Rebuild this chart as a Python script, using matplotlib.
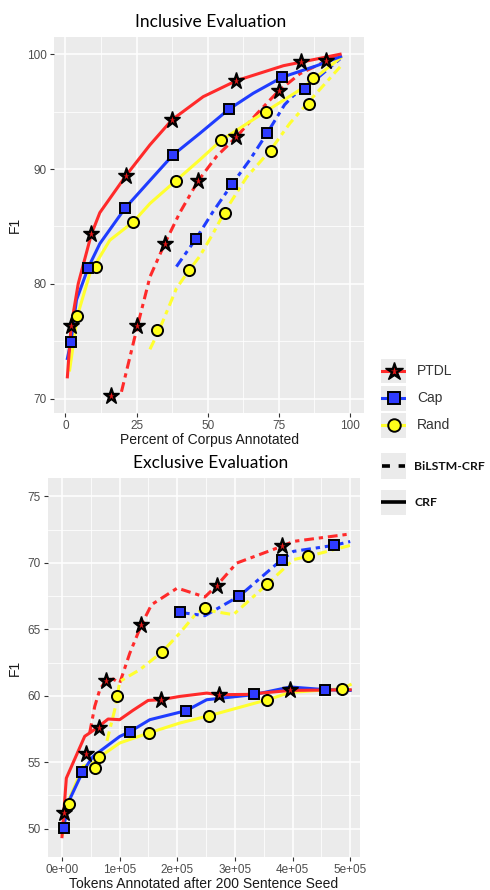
import matplotlib
matplotlib.use('Agg')
import matplotlib.pyplot as plt
from matplotlib.lines import Line2D

# ---- Inclusive evaluation (percent of corpus annotated vs F1) ----
inc_ptdl_crf_x = [0.7, 2.0, 4.5, 9.1, 12.1, 21.5, 29.7, 37.5, 48.4, 60.1, 76.6, 96.5]
inc_ptdl_crf_y = [71.9, 76.3, 80.0, 84.3, 86.2, 89.5, 92.1, 94.3, 96.3, 97.7, 99.0, 100.0]
inc_ptdl_crf_mx = [1.8, 9.1, 21.2, 37.5, 60.1, 82.9, 91.6]
inc_ptdl_crf_my = [76.3, 84.3, 89.4, 94.3, 97.7, 99.3, 99.4]

inc_cap_crf_x = [0.7, 1.9, 3.9, 8.0, 12.1, 21.0, 29.7, 37.7, 47.2, 57.4, 66.0, 76.2, 88.3, 96.7]
inc_cap_crf_y = [73.5, 74.9, 78.6, 81.4, 83.5, 86.6, 89.0, 91.2, 93.1, 95.2, 96.6, 98.0, 99.0, 99.8]
inc_cap_crf_mx = [1.9, 8.0, 21.0, 37.7, 57.4, 76.2]
inc_cap_crf_my = [74.9, 81.4, 86.6, 91.2, 95.2, 98.0]

inc_rand_crf_x = [1.5, 4.2, 8.6, 15.6, 23.9, 29.7, 38.9, 47.2, 54.7, 70.3, 82.4, 96.7]
inc_rand_crf_y = [72.5, 77.2, 80.9, 83.8, 85.4, 87.0, 89.0, 90.8, 92.5, 95.0, 96.9, 99.7]
inc_rand_crf_mx = [4.2, 10.9, 23.9, 38.9, 54.7, 70.3, 86.9]
inc_rand_crf_my = [77.2, 81.5, 85.4, 89.0, 92.5, 95.0, 97.9]

inc_ptdl_lstm_x = [19.7, 25.3, 29.7, 34.9, 40.2, 46.7, 53.1, 60.1, 67.2, 74.9, 82.4, 96.5]
inc_ptdl_lstm_y = [70.6, 76.3, 80.6, 83.5, 86.2, 89.0, 91.1, 92.8, 94.8, 96.8, 98.3, 100.0]
inc_ptdl_lstm_mx = [15.9, 25.3, 34.9, 46.7, 60.1, 74.9]
inc_ptdl_lstm_my = [70.2, 76.3, 83.5, 89.0, 92.8, 96.8]

inc_cap_lstm_x = [39.0, 45.8, 51.9, 58.6, 64.8, 70.8, 77.0, 80.1, 84.2, 96.5]
inc_cap_lstm_y = [81.5, 83.9, 86.3, 88.7, 90.8, 93.1, 95.6, 96.4, 97.0, 99.6]
inc_cap_lstm_mx = [45.8, 58.6, 70.8, 84.2]
inc_cap_lstm_my = [83.9, 88.7, 93.1, 97.0]

inc_rand_lstm_x = [29.7, 33.0, 39.0, 43.5, 47.2, 51.9, 56.0, 63.7, 71.9, 78.9, 87.1, 96.5]
inc_rand_lstm_y = [74.3, 76.0, 79.6, 81.2, 82.4, 84.4, 86.3, 89.3, 91.6, 94.0, 96.3, 98.9]
inc_rand_lstm_mx = [32.2, 43.5, 55.9, 72.1, 85.5]
inc_rand_lstm_my = [76.0, 81.2, 86.2, 91.6, 95.7]

# ---- Exclusive evaluation (tokens annotated vs F1) ----
exc_ptdl_crf_x = [0, 7500, 39400, 48000, 62600, 80000, 100000, 123000, 149500, 170900,
                  204500, 251000, 273000, 320000, 396000, 500000]
exc_ptdl_crf_y = [49.4, 53.8, 56.95, 57.2, 57.65, 58.25, 58.2, 58.9, 59.65, 59.7,
                  59.95, 60.2, 60.08, 60.1, 60.4, 60.45]
exc_ptdl_crf_mx = [2900, 42300, 63700, 171500, 272000, 396000]
exc_ptdl_crf_my = [51.2, 55.64, 57.6, 59.68, 60.08, 60.4]

exc_cap_crf_x = [1000, 13300, 35300, 53900, 100200, 118000, 152400, 215500, 251000,
                 332000, 396000, 456500, 500000]
exc_cap_crf_y = [49.8, 52.2, 54.24, 55.44, 56.94, 57.3, 58.2, 58.88, 59.7,
                 60.08, 60.66, 60.46, 60.4]
exc_cap_crf_mx = [3500, 35300, 118000, 215500, 333000, 456500]
exc_cap_crf_my = [50.08, 54.24, 57.3, 58.88, 60.13, 60.46]

exc_rand_crf_x = [600, 7500, 36500, 56800, 65500, 100200, 150600, 204500, 255500,
                  356300, 396000, 485500, 500000]
exc_rand_crf_y = [49.55, 51.7, 54.7, 55.0, 55.4, 56.45, 57.2, 57.95, 58.5,
                  59.7, 60.25, 60.53, 60.83]
exc_rand_crf_mx = [12000, 56800, 64300, 150600, 255500, 356300, 485500]
exc_rand_crf_my = [51.86, 54.6, 55.4, 57.2, 58.5, 59.7, 60.5]

exc_ptdl_lstm_x = [48000, 56800, 65500, 75900, 85700, 100200, 117600, 137900, 155300,
                   200000, 247900, 268300, 303000, 381200, 401500, 500000]
exc_ptdl_lstm_y = [57.2, 59.2, 60.45, 61.13, 61.33, 60.96, 63.2, 65.35, 66.85,
                   68.1, 67.43, 68.28, 69.98, 71.24, 71.61, 72.17]
exc_ptdl_lstm_mx = [75900, 137900, 268300, 381200]
exc_ptdl_lstm_my = [61.13, 65.35, 68.28, 71.24]

exc_cap_lstm_x = [204500, 247900, 307700, 381200, 401500, 471100, 500000]
exc_cap_lstm_y = [66.27, 66.02, 67.5, 70.24, 70.86, 71.31, 71.6]
exc_cap_lstm_mx = [204500, 307700, 381200, 471100]
exc_cap_lstm_my = [66.27, 67.5, 70.24, 71.31]

exc_rand_lstm_x = [78000, 91500, 96200, 100200, 135000, 173800, 204500, 233500, 247900,
                   262500, 297200, 356300, 401500, 427500, 500000]
exc_rand_lstm_y = [56.6, 58.95, 60.0, 61.08, 61.96, 63.3, 64.72, 66.22, 66.6,
                   66.35, 66.1, 68.4, 70.24, 70.49, 71.31]
exc_rand_lstm_mx = [96200, 173800, 247900, 356300, 427500]
exc_rand_lstm_my = [60.0, 63.3, 66.6, 68.4, 70.49]

inc_xticks = [0, 25, 50, 75, 100]
inc_yticks = [70, 80, 90, 100]
exc_xticks = [0, 100000, 200000, 300000, 400000, 500000]
exc_xticklabels = ['0e+00', '1e+05', '2e+05', '3e+05', '4e+05', '5e+05']
exc_yticks = [50, 55, 60, 65, 70, 75]

methods = ['PTDL', 'Cap', 'Rand']
line_colors = {'PTDL': '#FF2A2A', 'Cap': '#1F3CFF', 'Rand': '#FFFF2E'}
fill_colors = {'PTDL': '#E81818', 'Cap': '#2E3BFF', 'Rand': '#FFFF1A'}
markers = {'PTDL': '*', 'Cap': 's', 'Rand': 'o'}
msizes = {'PTDL': 12.5, 'Cap': 7.5, 'Rand': 8.0}
DASH = (3.2, 1.6, 1.4, 1.6)
LW = 2.2

TICK_FONT = dict(family='Liberation Sans', size=8.5, color='#4D4D4D')
LABEL_FONT = dict(family='Liberation Sans', size=10, color='#1A1A1A')
TITLE_FONT = dict(family='Lato', size=12.5, color='black')


def style_axes(ax, xmin, xmax, ymin, ymax, xminor, yminor):
    ax.set_facecolor('#EBEBEB')
    for s in ax.spines.values():
        s.set_visible(False)
    ax.set_xlim(xmin, xmax)
    ax.set_ylim(ymin, ymax)
    ax.set_xticks(xminor, minor=True)
    ax.set_yticks(yminor, minor=True)
    ax.grid(True, which='major', color='white', linewidth=1.1)
    ax.grid(True, which='minor', color='white', linewidth=0.55)
    ax.set_axisbelow(True)
    ax.tick_params(which='major', length=3, width=0.8, color='#333333', pad=2)
    ax.tick_params(which='minor', length=0)
    for lab in ax.get_xticklabels() + ax.get_yticklabels():
        lab.set_fontfamily(TICK_FONT['family'])
        lab.set_fontsize(TICK_FONT['size'])
        lab.set_color(TICK_FONT['color'])


def draw_marks(ax, m, mx, my, size_add=0):
    if m == 'PTDL':
        # black star with a small red centre
        ax.plot(mx, my, linestyle='none', marker='*', ms=msizes[m] + size_add,
                mfc='black', mec='black', mew=1.0, zorder=3)
        ax.plot(mx, my, linestyle='none', marker='*', ms=(msizes[m] + size_add) * 0.42,
                mfc=fill_colors[m], mec='none', zorder=4)
    else:
        ax.plot(mx, my, linestyle='none', marker=markers[m], ms=msizes[m] + size_add,
                mfc=fill_colors[m], mec='black', mew=1.4, zorder=3)


def draw_series(ax, data):
    # lines first, then markers on top
    for m, (lx, ly, mx, my, dashed) in data:
        if dashed:
            ax.plot(lx, ly, color=line_colors[m], lw=LW, dashes=DASH,
                    solid_capstyle='butt', zorder=2)
        else:
            ax.plot(lx, ly, color=line_colors[m], lw=LW, zorder=2)
    for m, (lx, ly, mx, my, dashed) in data:
        draw_marks(ax, m, mx, my)


fig = plt.figure(figsize=(4.9, 8.9), dpi=100)

# top panel
ax1 = fig.add_axes([54 / 490, 1 - 413 / 890, 310 / 490, 376 / 890])
draw_series(ax1, [
    ('PTDL', (inc_ptdl_lstm_x, inc_ptdl_lstm_y, inc_ptdl_lstm_mx, inc_ptdl_lstm_my, True)),
    ('Cap', (inc_cap_lstm_x, inc_cap_lstm_y, inc_cap_lstm_mx, inc_cap_lstm_my, True)),
    ('Rand', (inc_rand_lstm_x, inc_rand_lstm_y, inc_rand_lstm_mx, inc_rand_lstm_my, True)),
    ('Rand', (inc_rand_crf_x, inc_rand_crf_y, inc_rand_crf_mx, inc_rand_crf_my, False)),
    ('Cap', (inc_cap_crf_x, inc_cap_crf_y, inc_cap_crf_mx, inc_cap_crf_my, False)),
    ('PTDL', (inc_ptdl_crf_x, inc_ptdl_crf_y, inc_ptdl_crf_mx, inc_ptdl_crf_my, False)),
])
ax1.set_xticks(inc_xticks)
ax1.set_yticks(inc_yticks)
style_axes(ax1, -4.0, 104.9, 68.75, 101.5,
           [12.5, 37.5, 62.5, 87.5], [75, 85, 95])
ax1.set_xlabel('Percent of Corpus Annotated', labelpad=1, **LABEL_FONT)
ax1.set_ylabel('F1', labelpad=4, **LABEL_FONT)

# bottom panel
ax2 = fig.add_axes([48 / 490, 1 - 857 / 890, 312 / 490, 379 / 890])
draw_series(ax2, [
    ('PTDL', (exc_ptdl_lstm_x, exc_ptdl_lstm_y, exc_ptdl_lstm_mx, exc_ptdl_lstm_my, True)),
    ('Cap', (exc_cap_lstm_x, exc_cap_lstm_y, exc_cap_lstm_mx, exc_cap_lstm_my, True)),
    ('Rand', (exc_rand_lstm_x, exc_rand_lstm_y, exc_rand_lstm_mx, exc_rand_lstm_my, True)),
    ('Rand', (exc_rand_crf_x, exc_rand_crf_y, exc_rand_crf_mx, exc_rand_crf_my, False)),
    ('Cap', (exc_cap_crf_x, exc_cap_crf_y, exc_cap_crf_mx, exc_cap_crf_my, False)),
    ('PTDL', (exc_ptdl_crf_x, exc_ptdl_crf_y, exc_ptdl_crf_mx, exc_ptdl_crf_my, False)),
])
ax2.set_xticks(exc_xticks)
ax2.set_xticklabels(exc_xticklabels)
ax2.set_yticks(exc_yticks)
style_axes(ax2, -24300, 517000, 47.87, 76.38,
           [50000, 150000, 250000, 350000, 450000], [52.5, 57.5, 62.5, 67.5, 72.5])
ax2.set_xlabel('Tokens Annotated after 200 Sentence Seed', labelpad=1, **LABEL_FONT)
ax2.set_ylabel('F1', labelpad=4, **LABEL_FONT)

fig.text(211 / 490, 1 - 22 / 890, 'Inclusive Evaluation', ha='center', va='center', **TITLE_FONT)
fig.text(211 / 490, 1 - 463 / 890, 'Exclusive Evaluation', ha='center', va='center', **TITLE_FONT)

# legend: method keys
key_w, key_h = 25 / 490, 25 / 890
for i, m in enumerate(methods):
    cy = [371, 398, 425][i]
    kax = fig.add_axes([381 / 490, 1 - (cy + 12.5) / 890, key_w, key_h])
    kax.set_facecolor('#EBEBEB')
    kax.set_xlim(0, 1)
    kax.set_ylim(0, 1)
    kax.set_xticks([])
    kax.set_yticks([])
    for s in kax.spines.values():
        s.set_visible(False)
    kax.add_line(Line2D([0.05, 0.95], [0.5, 0.5], color=line_colors[m], lw=LW))
    draw_marks(kax, m, [0.5], [0.5], size_add=1)
    fig.text(417 / 490, 1 - cy / 890, m, ha='left', va='center',
             family='Liberation Sans', size=10, color='#333333')

# legend: model keys
for cy, lab, dashed in [(466, 'BiLSTM-CRF', True), (502, 'CRF', False)]:
    kax = fig.add_axes([381 / 490, 1 - (cy + 12.5) / 890, key_w, key_h])
    kax.set_facecolor('#EBEBEB')
    kax.set_xlim(0, 1)
    kax.set_ylim(0, 1)
    kax.set_xticks([])
    kax.set_yticks([])
    for s in kax.spines.values():
        s.set_visible(False)
    if dashed:
        kax.add_line(Line2D([0.05, 0.95], [0.5, 0.5], color='black', lw=2.6,
                            dashes=(2.2, 2.4)))
    else:
        kax.add_line(Line2D([0.0, 1.0], [0.5, 0.5], color='black', lw=2.6))
    fig.text(414 / 490, 1 - cy / 890, lab, ha='left', va='center',
             family='Lato', weight='bold', size=8.8, color='#111111')

fig.savefig('out.png', dpi=100)
